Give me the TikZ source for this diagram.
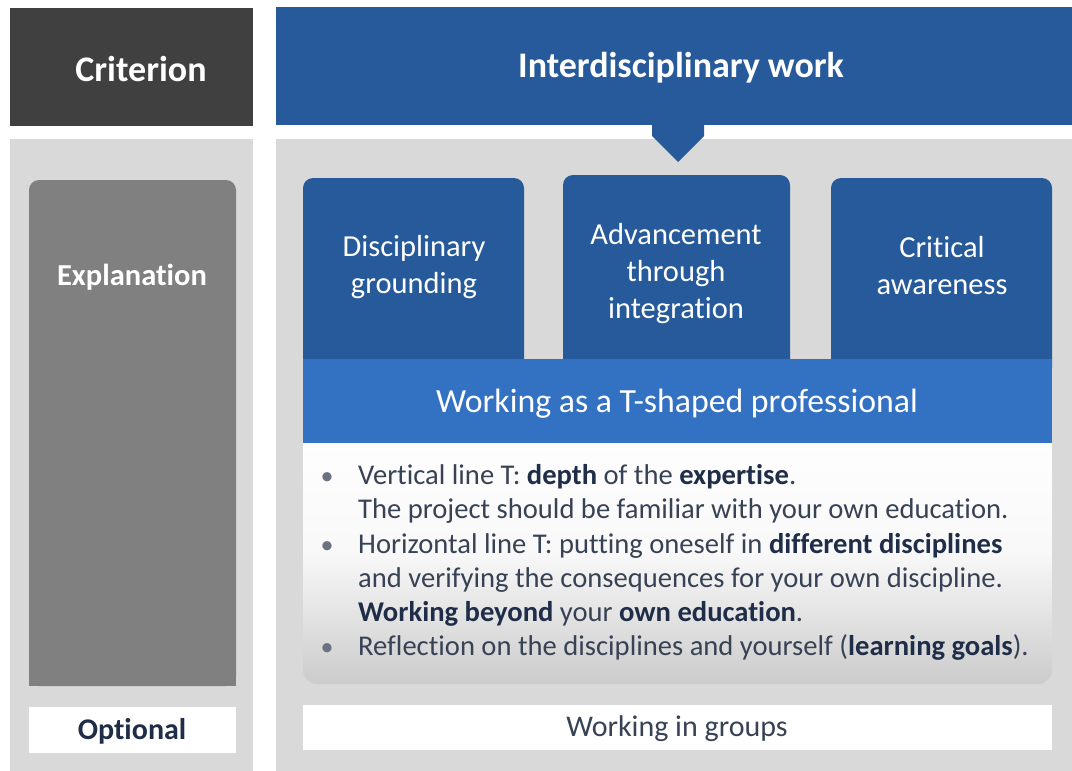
\documentclass[tikz,border=0pt]{standalone}
\usepackage{fontspec}
\setmainfont[Ligatures=NoCommon]{Carlito}
\definecolor{darkgray}{HTML}{404040}
\definecolor{panel}{HTML}{D9D9D9}
\definecolor{midgray}{HTML}{808080}
\definecolor{hblue}{HTML}{265A9A}
\definecolor{tblue}{HTML}{3371C3}
\definecolor{navy}{HTML}{1F2D48}
\definecolor{txt}{HTML}{384255}
\begin{document}
\begin{tikzpicture}[x=1pt,y=-1pt,
  box/.style={inner sep=0pt,outer sep=0pt,anchor=north west},
  lbl/.style={inner sep=0pt,align=center,text=white},
  bl/.style={inner sep=0pt,anchor=base west,text=txt,font=\fontsize{28.6}{34}\selectfont},
  bul/.style={inner sep=0pt,anchor=base,text=txt!75,font=\fontsize{26}{34}\selectfont}]
\useasboundingbox (0,0) rectangle (1072,771);
\fill[white] (0,0) rectangle (1072,771);
% top headers
\node[box,fill=darkgray,minimum width=243,minimum height=118] (crit) at (10,8) {};
\node[box,fill=hblue,minimum width=796,minimum height=118] (head) at (276,7) {};
\node[lbl,font=\bfseries\fontsize{36}{40}\selectfont] (critT) at (141,69) {Criterion};
\node[lbl,font=\bfseries\fontsize{36}{40}\selectfont] (headT) at (681,68) {Interdisciplinary work};
% panels
\node[box,fill=panel,minimum width=243,minimum height=640] (lp) at (10,139) {};
\node[box,fill=panel,minimum width=796,minimum height=640] (rp) at (276,139) {};
% pointer
\fill[hblue] (652,124) -- (704,124) -- (704,136) -- (678,162) -- (652,136) -- cycle;
% explanation
\node[box,fill=midgray,rounded corners=10pt,minimum width=207,minimum height=506] (expl) at (29,180) {};
\fill[midgray] (29,600) rectangle (236,686);
\node[lbl,font=\bfseries\fontsize{30.5}{36}\selectfont] (explT) at (132,277) {Explanation};
\node[box,fill=white,minimum width=207,minimum height=46] (opt) at (29,707) {};
\node[lbl,text=navy,font=\bfseries\fontsize{30}{36}\selectfont] (optT) at (132,731) {Optional};
% text box
\node[box,rounded corners=14pt,top color=white,bottom color=panel!85!gray,middle color=white!95!gray,minimum width=749,minimum height=264] (tb) at (303,420) {};
% three boxes
\node[box,fill=hblue,rounded corners=10pt,minimum width=221,minimum height=200] (b1) at (303,178) {};
\node[box,fill=hblue,rounded corners=10pt,minimum width=227,minimum height=203] (b2) at (563,175) {};
\node[box,fill=hblue,rounded corners=10pt,minimum width=221,minimum height=200] (b3) at (831,178) {};
\node[lbl,font=\fontsize{30.5}{37}\selectfont] (b1T) at (414,267) {Disciplinary\\grounding};
\node[lbl,font=\fontsize{30.5}{37}\selectfont] (b2T) at (676,274) {Advancement\\through\\integration};
\node[lbl,font=\fontsize{30.5}{37}\selectfont] (b3T) at (942,266) {Critical\\awareness};
% T bar
\node[box,fill=tblue,minimum width=749,minimum height=84] (tbar) at (303,359) {};
\node[lbl,font=\fontsize{33.8}{38}\selectfont] (tbarT) at (677,404) {Working as a T-shaped professional};
% bullets
\node[bul] (d1) at (327,484) {•};
\node[bul] (d2) at (327,553) {•};
\node[bul] (d3) at (327,655) {•};
\node[bl] (l1) at (358,484) {Vertical line T: \textbf{\color{navy}depth} of the \textbf{\color{navy}expertise}.};
\node[bl] (l2) at (358,518) {The project should be familiar with your own education.};
\node[bl] (l3) at (358,553) {Horizontal line T: putting oneself in \textbf{\color{navy}different disciplines}};
\node[bl] (l4) at (358,587) {and verifying the consequences for your own discipline.};
\node[bl] (l5) at (358,621) {\textbf{\color{navy}Working beyond} your \textbf{\color{navy}own education}.};
\node[bl] (l6) at (358,655) {Reflection on the disciplines and yourself (\textbf{\color{navy}learning goals}).};
% groups
\node[box,fill=white,minimum width=749,minimum height=45] (grp) at (303,705) {};
\node[lbl,text=txt,font=\fontsize{30}{36}\selectfont] (grpT) at (677,729) {Working in groups};
\end{tikzpicture}
\end{document}
